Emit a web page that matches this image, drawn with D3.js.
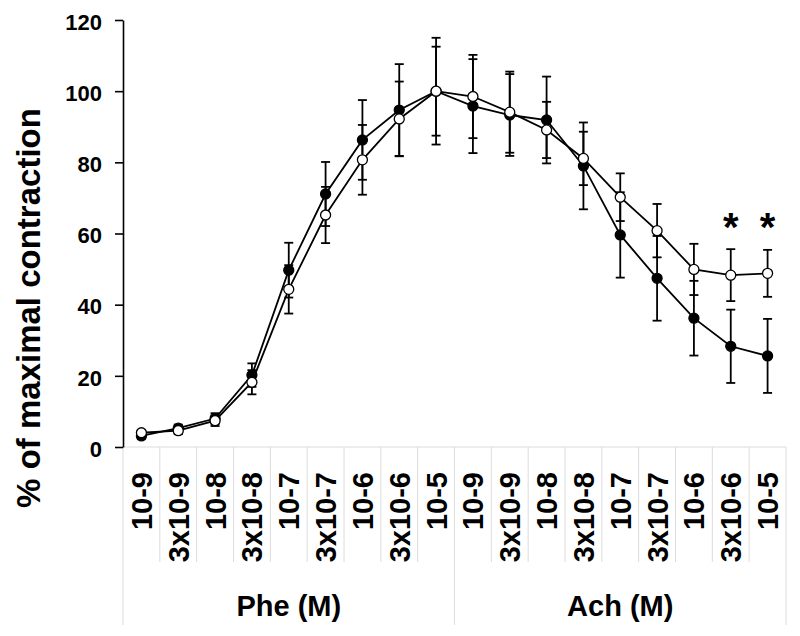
<!DOCTYPE html>
<html>
<head>
<meta charset="utf-8">
<script src="https://cdn.jsdelivr.net/npm/d3@7/dist/d3.min.js"></script>
<style>
  html, body { margin: 0; padding: 0; background: #fff; }
  svg { display: block; font-family: "Liberation Sans", Arial, Helvetica, sans-serif; }
</style>
</head>
<body>
<svg id="chart" width="800" height="636"></svg>
<script>
// ---- data ----
const doseLabels = ["10-9","3x10-9","10-8","3x10-8","10-7","3x10-7","10-6","3x10-6","10-5"];
const groups = ["Phe (M)", "Ach (M)"];
const categories = d3.range(18);               // 9 Phe doses followed by 9 Ach doses
const filledMean = [3.1, 5.3, 8.0, 20.2, 49.7, 71.1, 86.3, 94.7, 100, 95.8, 93.3, 91.9, 79.0, 59.6, 47.4, 36.2, 28.3, 25.6];
const filledSD   = [0.8, 1.0, 1.5, 3.3, 7.7, 9.0, 11.2, 12.9, 15.0, 13.2, 11.5, 12.2, 12.2, 12.0, 11.9, 10.5, 10.3, 10.4];
const openMean   = [4.0, 4.6, 7.4, 18.2, 44.3, 65.2, 80.7, 92.2, 100, 98.5, 94.1, 89.1, 81.1, 70.2, 60.8, 49.9, 48.3, 48.8];
const openSD     = [0.8, 1.0, 1.5, 3.4, 6.8, 7.9, 9.8, 10.5, 12.5, 11.7, 11.4, 7.9, 7.5, 6.7, 7.5, 7.2, 7.3, 6.6];
const yTicks = [0, 20, 40, 60, 80, 100, 120];
const significant = [16, 17];
const starLevel = 64;

// ---- layout ----
const svg = d3.select("#chart");
const plotL = 123, plotR = 786, plotT = 20, plotB = 447;
const x = d3.scaleBand().domain(categories).range([plotL, plotR]).padding(0);
const y = d3.scaleLinear().domain([0, 120]).range([plotB, plotT]);
const cx = i => x(i) + x.bandwidth() / 2;

// category grid lines (light gray)
const boundaries = d3.range(19);
svg.append("g").selectAll("line").data(boundaries).join("line")
  .attr("x1", i => plotL + i * x.step()).attr("x2", i => plotL + i * x.step())
  .attr("y1", plotB)
  .attr("y2", i => (i % 9 === 0) ? 625 : 562)
  .attr("stroke", "#dcdcdc").attr("stroke-width", 1);
svg.append("line").attr("x1", plotL).attr("x2", plotR).attr("y1", plotB).attr("y2", plotB)
  .attr("stroke", "#dcdcdc").attr("stroke-width", 1);

// dose labels
svg.append("g").selectAll("text").data(categories).join("text")
  .attr("transform", i => `translate(${cx(i)},472) rotate(-90)`)
  .attr("dy", "0.36em")
  .attr("text-anchor", "end")
  .attr("font-size", 29).attr("font-weight", "bold").attr("fill", "#000")
  .text(i => doseLabels[i % 9]);

// group labels
svg.append("g").selectAll("text").data(groups).join("text")
  .attr("x", (g, k) => plotL + (k * 9 + 4.5) * x.step())
  .attr("y", 616)
  .attr("text-anchor", "middle")
  .attr("font-size", 29).attr("font-weight", "bold").attr("fill", "#000")
  .text(g => g);

// y axis
const yAxis = d3.axisLeft(y).tickValues(yTicks).tickSize(8).tickSizeOuter(0).tickPadding(13);
const gy = svg.append("g").attr("transform", `translate(${plotL},0)`).call(yAxis);
gy.select(".domain").attr("stroke", "#000").attr("stroke-width", 1.6);
gy.selectAll(".tick line").attr("stroke", "#000").attr("stroke-width", 1.6);
gy.selectAll(".tick text").attr("font-size", 22).attr("font-weight", "bold").attr("fill", "#000")
  .attr("font-family", "'Liberation Sans', Arial, sans-serif").attr("dy", "0.42em");

// y title
svg.append("text")
  .attr("transform", "translate(40,308) rotate(-90)")
  .attr("text-anchor", "middle")
  .attr("font-size", 33).attr("font-weight", "bold").attr("fill", "#000")
  .text("% of maximal contraction");

// series
const series = [
  { mean: filledMean, sd: filledSD, fill: "#000" },
  { mean: openMean, sd: openSD, fill: "#fff" }
];
const line = d3.line().x((d, i) => cx(i)).y(d => y(d));
const gData = svg.append("g");
series.forEach(s => {
  gData.append("path").datum(s.mean).attr("d", line)
    .attr("fill", "none").attr("stroke", "#000").attr("stroke-width", 1.8);
});
const capW = 4.5;
series.forEach(s => {
  const g = gData.append("g");
  s.mean.forEach((m, i) => {
    const lo = y(m - s.sd[i]), hi = y(m + s.sd[i]);
    g.append("line").attr("x1", cx(i)).attr("x2", cx(i)).attr("y1", lo).attr("y2", hi)
      .attr("stroke", "#000").attr("stroke-width", 1.8);
    [lo, hi].forEach(v => g.append("line")
      .attr("x1", cx(i) - capW).attr("x2", cx(i) + capW).attr("y1", v).attr("y2", v)
      .attr("stroke", "#000").attr("stroke-width", 1.8));
  });
});
series.forEach(s => {
  gData.append("g").selectAll("circle").data(s.mean).join("circle")
    .attr("cx", (d, i) => cx(i)).attr("cy", d => y(d)).attr("r", 5)
    .attr("fill", s.fill).attr("stroke", "#000").attr("stroke-width", 1.3);
});

// significance marks
svg.append("g").selectAll("text").data(significant).join("text")
  .attr("x", i => cx(i)).attr("y", y(starLevel)).attr("dy", "0.55em")
  .attr("text-anchor", "middle")
  .attr("font-size", 40).attr("font-weight", "bold").attr("fill", "#000")
  .text("*");
</script>
</body>
</html>
